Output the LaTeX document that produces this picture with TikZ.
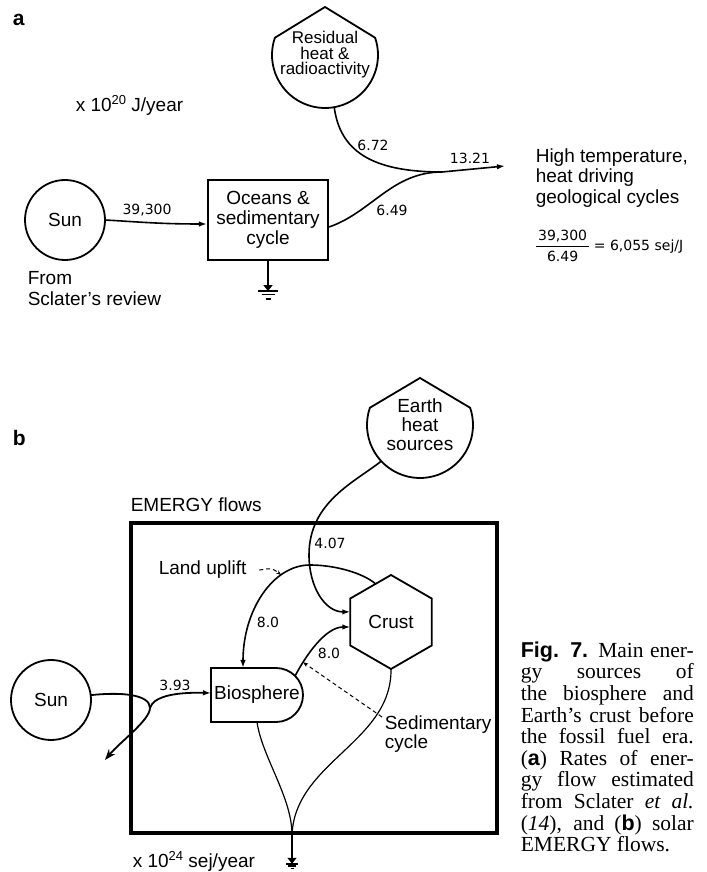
\documentclass[tikz,border=0pt]{standalone}
\usepackage{fontspec}
\setmainfont{Liberation Sans}
\newfontfamily\capfont{Liberation Serif}
\newfontfamily\flowfont{DejaVu Sans}
\usetikzlibrary{arrows.meta,positioning,calc,shapes.geometric}
\newcommand{\labfont}{\fontsize{19bp}{21bp}\selectfont}
\tikzset{pics/gnd/.style={code={\draw (-10,0) -- (10,0) (-6.5,-3.5) -- (6.5,-3.5) (-2.5,-8) -- (2.5,-8);}}}

\begin{document}
\begin{tikzpicture}[
  x=1bp,y=1bp,line width=1.6bp,
  tag/.style={inner sep=0pt,font=\fontsize{21bp}{21bp}\selectfont\bfseries},
  txt/.style={inner sep=0pt,align=left,font=\labfont},
  num/.style={inner sep=0pt,font=\flowfont\fontsize{14bp}{17bp}\selectfont},
  sun/.style={draw,circle,minimum size=80bp,inner sep=0pt,outer sep=0pt,line width=1.8bp,font=\labfont},
  src/.style={circle,minimum size=106bp,inner sep=0pt,outer sep=0pt,align=center,font=\fontsize{19bp}{19bp}\selectfont},
  store/.style={draw,line width=2.2bp,minimum width=120bp,minimum height=80bp,inner sep=0pt,align=center,font=\fontsize{19bp}{20bp}\selectfont},
  bio/.style={rectangle,minimum width=92bp,minimum height=54bp,inner sep=0pt,outer sep=0pt,font=\labfont},
  hexa/.style={draw,regular polygon,regular polygon sides=6,shape border rotate=30,minimum size=94bp,inner sep=0pt,outer sep=0pt,line width=1.8bp,font=\labfont},
  sysbox/.style={draw,line width=3.5bp,minimum width=366bp,minimum height=310bp},
  capbox/.style={inner sep=0pt,align=left,font=\capfont\fontsize{21.5bp}{21.6bp}\selectfont},
  flow/.style={-{Latex[length=8bp,width=5.5bp]}},
  reflect/.style={line width=1.8bp,-{Stealth[length=11bp,width=8bp]}},
  sinkarrow/.style={-{Triangle[length=6bp,width=9bp]}},
  lead/.style={dashed,line width=1bp,dash pattern=on 4bp off 3bp,-{Stealth[length=5bp,width=4bp]}},
  thinline/.style={line width=1.2bp}
]
\useasboundingbox (0,0) rectangle (707,872);

\node[tag,anchor=base west] (tagA) at (12,846) {a};
\node[txt,anchor=base west] (unitA) at (75,760) {x 10\raisebox{0.42em}{\fontsize{13bp}{13bp}\selectfont 20} J/year};
\node[sun] (sunA) at (65,652) {Sun};
\node[txt,anchor=west] (refA) at (27,583) {From\\Sclater's review};
\node[store] (ocean) at (268,652) {Oceans \&\\sedimentary\\cycle};
\node[src,font=\fontsize{17bp}{15.5bp}\selectfont] (resid) at (325,817) {Residual\\heat \&\\radioactivity};
\draw[line width=1.8bp] (resid.161) arc[start angle=161,end angle=379,radius=53] -- ([yshift=48bp]resid.center) -- cycle;
\node[txt,anchor=west,font=\fontsize{19bp}{20.5bp}\selectfont] (heatA) at (535,694) {High temperature,\\heat driving\\geological cycles};
\node[num,anchor=base west] (ratio) at (535,621.6) {{\setlength{\arrayrulewidth}{1.2bp}\renewcommand{\arraystretch}{1.15}\begin{tabular}{@{\,}c@{\,}}39,300\\\hline 6.49\end{tabular}} = 6,055 sej/J};
\coordinate (jA) at (442,700);
\coordinate (hA) at (505,706);
\draw[flow] (sunA.east) .. controls (140,650) and (160,648) .. ([yshift=-4bp]ocean.west);
\draw (resid.-80) .. controls (340,722) and (370,700) .. (jA);
\draw ([yshift=-7bp]ocean.east) .. controls (372,660) and (392,700) .. (jA);
\draw[flow] (jA) -- (hA);
\coordinate[below=30bp of ocean] (gA);
\draw[sinkarrow] (ocean.south) -- (gA);
\pic at (gA) {gnd};
\node[num] (l39300) at (147,662) {39,300};
\node[num] (l672) at (373,727) {6.72};
\node[num] (l649) at (392,662) {6.49};
\node[num] (l1321) at (470,714) {13.21};

\node[tag,anchor=base west] (tagB) at (12,426) {b};
\node[sysbox] (sys) at (314,194) {};
\node[txt,anchor=base west] (emB) at (130,360) {EMERGY flows};
\node[sun] (sunB) at (51,172) {Sun};
\node[bio] (bio) at (257,177) {Biosphere};
\draw[line width=1.8bp] (bio.north west) -- ([xshift=-27bp]bio.north east) arc[start angle=90,end angle=-90,radius=27] -- (bio.south west) -- cycle;
\node[hexa] (crust) at (391,250) {Crust};
\node[src] (earth) at (420,447) {Earth\\heat\\sources};
\draw[line width=1.8bp] (earth.161) arc[start angle=161,end angle=379,radius=53] -- ([yshift=47bp]earth.center) -- cycle;
\coordinate (loopB) at (150,164);
\coordinate (outB) at (105,112);
\draw[reflect] (sunB.7) .. controls (120,180) and (150,178) .. (loopB) .. controls (150,152) and (120,130) .. (outB);
\draw[flow,line width=1.8bp] (loopB) .. controls (153,174) and (170,180) .. ([yshift=2bp]bio.west);
\draw[flow] (earth.223) .. controls (355,390) and (309,370) .. (309,317) .. controls (309,285) and (325,260) .. (crust.166);
\draw[flow] (crust.112) .. controls (363,299) and (335,307) .. (310,307) .. controls (273,307) and (243,262) .. ([xshift=-14bp]bio.north) coordinate[pos=0.28] (upl);
\draw[flow] ($(bio.east)+(-27,0)+(45:27)$) .. controls (305,215) and (325,245) .. (crust.187) coordinate[pos=0.22] (sedpt);
\node[txt,anchor=base west] (uplift) at (158,297) {Land uplift};
\draw[lead] ([xshift=12bp]uplift.east) .. controls (272,304) .. (upl);
\node[txt,anchor=north west,font=\fontsize{19bp}{19bp}\selectfont] (sedi) at (384,157) {Sedimentary\\cycle};
\draw[lead] ([shift={(-2bp,-2bp)}]sedi.north west) -- (sedpt);
\coordinate (gj) at ([xshift=-22bp]sys.south);
\draw[thinline] (bio.south) .. controls (262,115) and (292,75) .. (gj);
\draw[thinline] (crust.south) .. controls (392,130) and (295,110) .. (gj);
\coordinate[below=29bp of gj] (gB);
\draw[sinkarrow] (gj) -- (gB);
\pic[scale=0.6] at (gB) {gnd};
\node[num] (l393) at (175,187) {3.93};
\node[num] (l407) at (330,329) {4.07};
\node[num] (l80a) at (268,250) {8.0};
\node[num] (l80b) at (329,219) {8.0};
\node[txt,anchor=base west] (unitB) at (132,4) {x 10\raisebox{0.42em}{\fontsize{13bp}{13bp}\selectfont 24} sej/year};

\node[capbox,anchor=north west] (cap) at (520,231) {%
\makebox[173bp][s]{{\rmfamily\bfseries Fig. 7.} Main ener-}\\
\makebox[173bp][s]{gy sources of}\\
\makebox[173bp][s]{the biosphere and}\\
\makebox[173bp][s]{Earth’s crust before}\\
\makebox[173bp][s]{the fossil fuel era.}\\
\makebox[173bp][s]{({\rmfamily\bfseries a}) Rates of ener-}\\
\makebox[173bp][s]{gy flow estimated}\\
\makebox[173bp][s]{from Sclater {\itshape et al.}}\\
\makebox[173bp][s]{({\itshape 14}), and ({\rmfamily\bfseries b}) solar}\\
EMERGY flows.};
\end{tikzpicture}
\end{document}
